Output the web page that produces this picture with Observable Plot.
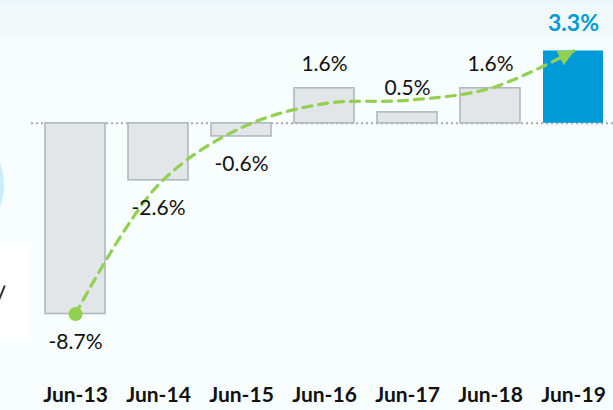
<!DOCTYPE html>
<html>
<head>
<meta charset="utf-8">
<script src="https://cdn.jsdelivr.net/npm/d3@7"></script>
<script src="https://cdn.jsdelivr.net/npm/@observablehq/plot@0.6"></script>
<style>
  html, body { margin: 0; padding: 0; }
  body {
    width: 613px; height: 410px; overflow: hidden; position: relative;
    background: linear-gradient(to bottom, #edf7f9 0px, #f6fbfc 45px, #f8fdfe 100px, #f8fdfe 410px);
    font-family: Lato, "Open Sans", sans-serif;
  }
  #deco-circle { position: absolute; left: -120px; top: 123px; width: 124px; height: 124px; border-radius: 50%; background: #c8edfb; }
  #deco-box { position: absolute; left: 0; top: 245px; width: 30px; height: 94px; background: #ffffff; overflow: hidden; }
  #deco-stroke { position: absolute; left: 1px; top: 40px; width: 2px; height: 15px; background: #333; transform: rotate(22deg); }
  #chart { position: absolute; left: 0; top: 0; }
</style>
</head>
<body>
<div id="deco-circle"></div>
<div id="deco-box"><div id="deco-stroke"></div></div>
<div id="chart"></div>
<script>
// Data
const categories = ["Jun-13", "Jun-14", "Jun-15", "Jun-16", "Jun-17", "Jun-18", "Jun-19"];
const values = [-8.7, -2.6, -0.6, 1.6, 0.5, 1.6, 3.3];
const labels = ["-8.7%", "-2.6%", "-0.6%", "1.6%", "0.5%", "1.6%", "3.3%"];
const highlighted = [false, false, false, false, false, false, true];
// Trend curve (read from the dashed green arrow) at each category
const trendValues = [-8.7, -2.8, -0.2, 0.9, 1.05, 1.6, 3.3];

const bars = categories.map((c, i) => ({cat: c, value: values[i], label: labels[i], hi: highlighted[i]}));
const trend = categories.map((c, i) => ({cat: c, value: trendValues[i]}));

const green = "#92d050";
const blue = "#009ad9";

const chart = Plot.plot({
  width: 613,
  height: 410,
  marginLeft: 31,
  marginRight: 0,
  marginTop: 0,
  marginBottom: 28,
  style: {background: "transparent", fontFamily: "Lato, 'Open Sans', sans-serif", overflow: "visible"},
  x: {type: "band", domain: categories, range: [31, 616], paddingInner: 0.28, paddingOuter: 0.1437, label: null},
  y: {domain: [-8.7, 3.3], range: [313.5, 50.5], axis: null},
  marks: [
    Plot.ruleY([0], {stroke: "#a9a9a9", strokeWidth: 2, strokeDasharray: "2,3"}),
    Plot.barY(bars.filter(d => !d.hi), {x: "cat", y: "value", fill: "#e2e6e9", stroke: "#aeb8bf", strokeWidth: 1.6}),
    Plot.barY(bars.filter(d => d.hi), {x: "cat", y: "value", fill: blue}),
    Plot.line(trend, {x: "cat", y: "value", stroke: green, strokeWidth: 3.2, strokeDasharray: "9,7", curve: "catmull-rom"}),
    Plot.dot(trend.slice(0, 1), {x: "cat", y: "value", r: 7, fill: green}),
    Plot.text(bars.filter(d => d.value < 0), {x: "cat", y: "value", text: "label", dy: 28, fontSize: 21, fill: "#111", lineAnchor: "middle"}),
    Plot.text(bars.filter(d => d.value >= 0 && !d.hi), {x: "cat", y: "value", text: "label", dy: -24, fontSize: 21, fill: "#111", lineAnchor: "middle"}),
    Plot.text(bars.filter(d => d.hi), {x: "cat", y: "value", text: "label", dy: -27, fontSize: 23, fontWeight: "bold", fill: blue, lineAnchor: "middle"}),
    Plot.axisX({tickSize: 0, tickPadding: 5, fontSize: 21, fontWeight: "bold", fill: "#111", label: null})
  ]
});

// Arrowhead at the end of the trend line
const svg = d3.select(chart);
const defs = svg.insert("defs", ":first-child");
defs.append("marker")
  .attr("id", "trend-arrow")
  .attr("viewBox", "0 0 10 10")
  .attr("refX", 9.5).attr("refY", 5)
  .attr("markerUnits", "userSpaceOnUse")
  .attr("markerWidth", 16).attr("markerHeight", 17)
  .attr("orient", "auto")
  .append("path").attr("d", "M0,0L10,5L0,10Z").attr("fill", green);
svg.selectAll('g[aria-label="line"] path').attr("marker-end", "url(#trend-arrow)");
svg.selectAll('g[aria-label="x-axis tick label"] text, g[aria-label="x-axis tick label"]').attr("font-weight", "bold");

document.getElementById("chart").appendChild(chart);
</script>
</body>
</html>
